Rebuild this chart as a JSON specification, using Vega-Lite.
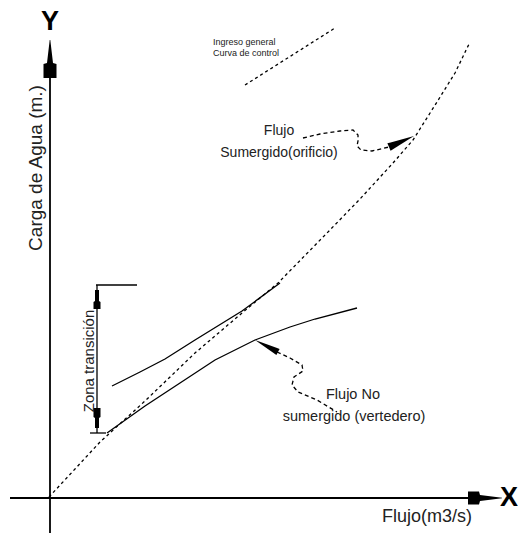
{
  "$schema": "https://vega.github.io/schema/vega-lite/v6.json",
  "width": 518,
  "height": 533,
  "autosize": "none",
  "padding": 0,
  "background": "white",
  "config": {"view": {"stroke": null}},
  "datasets": {
    "axes": [
      {"id": "xaxis", "o": 1, "x": 10, "y": 498},
      {"id": "xaxis", "o": 2, "x": 470, "y": 498},
      {"id": "yaxis", "o": 1, "x": 50, "y": 533},
      {"id": "yaxis", "o": 2, "x": 50, "y": 76}
    ],
    "hArrows": [
      {"id": "xa", "x": 468, "y": 491.5, "y2": 504.5},
      {"id": "xa", "x": 479, "y": 491.5, "y2": 504.5},
      {"id": "xa", "x": 480, "y": 495, "y2": 501},
      {"id": "xa", "x": 502, "y": 497.7, "y2": 498.3},
      {"id": "a1", "x": 387.4, "y": 143.3, "y2": 143.3},
      {"id": "a1", "x": 390.6, "y": 142.4, "y2": 150.7},
      {"id": "a1", "x": 414, "y": 136, "y2": 136},
      {"id": "a2", "x": 255, "y": 340, "y2": 340},
      {"id": "a2", "x": 276.4, "y": 347.7, "y2": 355.1},
      {"id": "a2", "x": 279.6, "y": 348.9, "y2": 348.9}
    ],
    "vArrows": [
      {"id": "ya", "y": 78, "x": 43.5, "x2": 56.5},
      {"id": "ya", "y": 64, "x": 43.5, "x2": 56.5},
      {"id": "ya", "y": 63, "x": 47, "x2": 53},
      {"id": "ya", "y": 40, "x": 49.7, "x2": 50.3},
      {"id": "b1", "y": 290, "x": 95, "x2": 99},
      {"id": "b1", "y": 301, "x": 95, "x2": 99},
      {"id": "b1", "y": 302, "x": 93.5, "x2": 100.5},
      {"id": "b1", "y": 309, "x": 93.5, "x2": 100.5},
      {"id": "b2", "y": 408, "x": 93.5, "x2": 100.5},
      {"id": "b2", "y": 417, "x": 93.5, "x2": 100.5},
      {"id": "b2", "y": 418, "x": 95, "x2": 99},
      {"id": "b2", "y": 428, "x": 95, "x2": 99}
    ],
    "solid": [
      {"id": "upper", "o": 1, "x": 112, "y": 386},
      {"id": "upper", "o": 2, "x": 140, "y": 372},
      {"id": "upper", "o": 3, "x": 165, "y": 359},
      {"id": "upper", "o": 4, "x": 195, "y": 340},
      {"id": "upper", "o": 5, "x": 242, "y": 311},
      {"id": "upper", "o": 6, "x": 280, "y": 283},
      {"id": "lower", "o": 1, "x": 107, "y": 433},
      {"id": "lower", "o": 2, "x": 145, "y": 406},
      {"id": "lower", "o": 3, "x": 180, "y": 383},
      {"id": "lower", "o": 4, "x": 215, "y": 360},
      {"id": "lower", "o": 5, "x": 255, "y": 340},
      {"id": "lower", "o": 6, "x": 290, "y": 327},
      {"id": "lower", "o": 7, "x": 315, "y": 319},
      {"id": "lower", "o": 8, "x": 357, "y": 308},
      {"id": "brv", "o": 1, "x": 97, "y": 285},
      {"id": "brv", "o": 2, "x": 97, "y": 433},
      {"id": "brt", "o": 1, "x": 96, "y": 285},
      {"id": "brt", "o": 2, "x": 137, "y": 285},
      {"id": "brb", "o": 1, "x": 90, "y": 433},
      {"id": "brb", "o": 2, "x": 106, "y": 433}
    ],
    "curve": [
      {"id": "curve", "o": 1, "x": 49, "y": 497},
      {"id": "curve", "o": 2, "x": 75, "y": 469},
      {"id": "curve", "o": 3, "x": 100, "y": 442},
      {"id": "curve", "o": 4, "x": 145, "y": 401},
      {"id": "curve", "o": 5, "x": 195, "y": 353},
      {"id": "curve", "o": 6, "x": 242, "y": 313},
      {"id": "curve", "o": 7, "x": 278, "y": 283},
      {"id": "curve", "o": 8, "x": 327, "y": 233},
      {"id": "curve", "o": 9, "x": 360, "y": 199},
      {"id": "curve", "o": 10, "x": 393, "y": 163},
      {"id": "curve", "o": 11, "x": 413, "y": 140},
      {"id": "curve", "o": 12, "x": 437, "y": 102},
      {"id": "curve", "o": 13, "x": 455, "y": 73},
      {"id": "curve", "o": 14, "x": 470, "y": 42},
      {"id": "ingreso", "o": 1, "x": 245, "y": 85},
      {"id": "ingreso", "o": 2, "x": 335, "y": 28}
    ],
    "leaders": [
      {"id": "lead1", "o": 1, "x": 303, "y": 138},
      {"id": "lead1", "o": 2, "x": 320, "y": 134},
      {"id": "lead1", "o": 3, "x": 340, "y": 131},
      {"id": "lead1", "o": 4, "x": 353, "y": 130},
      {"id": "lead1", "o": 5, "x": 358, "y": 135},
      {"id": "lead1", "o": 6, "x": 358, "y": 141},
      {"id": "lead1", "o": 7, "x": 357, "y": 146},
      {"id": "lead1", "o": 8, "x": 361, "y": 150},
      {"id": "lead1", "o": 9, "x": 372, "y": 151},
      {"id": "lead1", "o": 10, "x": 389, "y": 147},
      {"id": "lead2", "o": 1, "x": 277, "y": 352},
      {"id": "lead2", "o": 2, "x": 290, "y": 358},
      {"id": "lead2", "o": 3, "x": 302, "y": 365},
      {"id": "lead2", "o": 4, "x": 303, "y": 371},
      {"id": "lead2", "o": 5, "x": 294, "y": 377},
      {"id": "lead2", "o": 6, "x": 292, "y": 385},
      {"id": "lead2", "o": 7, "x": 298, "y": 392},
      {"id": "lead2", "o": 8, "x": 317, "y": 400},
      {"id": "lead2", "o": 9, "x": 337, "y": 412}
    ],
    "labels": [
      {"grp": "letter", "x": 50, "y": 22, "text": "Y"},
      {"grp": "letter", "x": 509, "y": 498, "text": "X"},
      {"grp": "ytitle", "x": 36, "y": 168, "text": "Carga de Agua (m.)"},
      {"grp": "xtitle", "x": 427, "y": 517, "text": "Flujo(m3/s)"},
      {"grp": "tiny", "x": 213, "y": 42, "text": "Ingreso general"},
      {"grp": "tiny", "x": 213, "y": 53, "text": "Curva de control"},
      {"grp": "note", "x": 279, "y": 131, "text": "Flujo"},
      {"grp": "note", "x": 279, "y": 153, "text": "Sumergido(orificio)"},
      {"grp": "note2", "x": 353, "y": 395, "text": "Flujo No"},
      {"grp": "note2", "x": 354, "y": 417, "text": "sumergido (vertedero)"},
      {"grp": "zona", "x": 89, "y": 361, "text": "Zona transición"}
    ]
  },
  "encoding": {
    "x": {"field": "x", "type": "quantitative", "scale": {"domain": [0, 518], "nice": false, "zero": false}, "axis": null},
    "y": {"field": "y", "type": "quantitative", "scale": {"domain": [0, 533], "nice": false, "zero": false, "reverse": true}, "axis": null}
  },
  "layer": [
    {
      "data": {"name": "axes"},
      "mark": {"type": "line", "color": "#000", "strokeWidth": 1.8},
      "encoding": {"detail": {"field": "id"}, "order": {"field": "o"}}
    },
    {
      "data": {"name": "solid"},
      "mark": {"type": "line", "color": "#000", "strokeWidth": 1.3},
      "encoding": {"detail": {"field": "id"}, "order": {"field": "o"}}
    },
    {
      "data": {"name": "curve"},
      "mark": {"type": "line", "color": "#000", "strokeWidth": 1.3, "strokeDash": [3, 3]},
      "encoding": {"detail": {"field": "id"}, "order": {"field": "o"}}
    },
    {
      "data": {"name": "leaders"},
      "mark": {"type": "line", "color": "#000", "strokeWidth": 1.3, "strokeDash": [4, 3]},
      "encoding": {"detail": {"field": "id"}, "order": {"field": "o"}}
    },
    {
      "data": {"name": "hArrows"},
      "mark": {"type": "area", "color": "#000", "orient": "vertical", "opacity": 1},
      "encoding": {
        "detail": {"field": "id"},
        "y2": {"field": "y2"}
      }
    },
    {
      "data": {"name": "vArrows"},
      "mark": {"type": "area", "color": "#000", "orient": "horizontal", "opacity": 1},
      "encoding": {
        "detail": {"field": "id"},
        "x2": {"field": "x2"}
      }
    },
    {
      "data": {"name": "labels"},
      "transform": [{"filter": "datum.grp === 'letter'"}],
      "mark": {"type": "text", "font": "Liberation Sans, Arial, sans-serif", "fontWeight": "bold", "fontSize": 27, "align": "center", "baseline": "middle", "color": "#000"},
      "encoding": {"text": {"field": "text"}}
    },
    {
      "data": {"name": "labels"},
      "transform": [{"filter": "datum.grp === 'ytitle'"}],
      "mark": {"type": "text", "font": "Liberation Sans, Arial, sans-serif", "fontSize": 19, "angle": 270, "align": "center", "baseline": "middle", "color": "#222"},
      "encoding": {"text": {"field": "text"}}
    },
    {
      "data": {"name": "labels"},
      "transform": [{"filter": "datum.grp === 'xtitle'"}],
      "mark": {"type": "text", "font": "Liberation Sans, Arial, sans-serif", "fontSize": 18, "align": "center", "baseline": "middle", "color": "#222"},
      "encoding": {"text": {"field": "text"}}
    },
    {
      "data": {"name": "labels"},
      "transform": [{"filter": "datum.grp === 'tiny'"}],
      "mark": {"type": "text", "font": "Liberation Sans, Arial, sans-serif", "fontSize": 9, "align": "left", "baseline": "middle", "color": "#222"},
      "encoding": {"text": {"field": "text"}}
    },
    {
      "data": {"name": "labels"},
      "transform": [{"filter": "datum.grp === 'note'"}],
      "mark": {"type": "text", "font": "Liberation Sans, Arial, sans-serif", "fontSize": 14, "align": "center", "baseline": "middle", "color": "#222"},
      "encoding": {"text": {"field": "text"}}
    },
    {
      "data": {"name": "labels"},
      "transform": [{"filter": "datum.grp === 'note2'"}],
      "mark": {"type": "text", "font": "Liberation Sans, Arial, sans-serif", "fontSize": 14.5, "align": "center", "baseline": "middle", "color": "#222"},
      "encoding": {"text": {"field": "text"}}
    },
    {
      "data": {"name": "labels"},
      "transform": [{"filter": "datum.grp === 'zona'"}],
      "mark": {"type": "text", "font": "Liberation Sans, Arial, sans-serif", "fontSize": 15, "angle": 270, "align": "center", "baseline": "middle", "color": "#222"},
      "encoding": {"text": {"field": "text"}}
    }
  ]
}
